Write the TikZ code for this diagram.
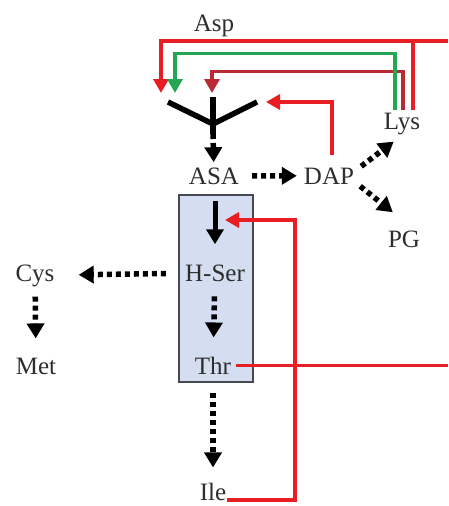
\documentclass[tikz,border=0pt]{standalone}
\usepackage{fontspec}
\setmainfont{Liberation Serif}
\usetikzlibrary{arrows.meta}
\definecolor{fbred}{RGB}{232,30,36}
\definecolor{fbdark}{RGB}{184,42,52}
\definecolor{fbgreen}{RGB}{36,166,84}
\definecolor{boxblue}{RGB}{212,222,240}
\definecolor{boxedge}{RGB}{70,72,82}
\definecolor{txt}{RGB}{45,45,45}

\begin{document}
\begin{tikzpicture}[x=1pt,y=-1pt,
    lbl/.style={font=\fontsize{25}{28}\selectfont,text=txt,inner sep=2pt,anchor=base},
    dotarr/.style={line width=5.5pt,dash pattern=on 5pt off 4pt,-{Triangle[length=15pt,width=17pt]}},
    solidarr/.style={line width=5pt,-{Triangle[length=15pt,width=17pt]}},
    fb/.style={line width=3.4pt,-{Triangle[length=14pt,width=15pt]}},
    fbline/.style={line width=3.4pt}]
  \useasboundingbox (0,0) rectangle (448,506);

  % Thr / H-Ser box
  \node[draw=boxedge,fill=boxblue,line width=2.2pt,minimum width=74pt,minimum height=187pt,inner sep=0pt] (bx) at (216,288.5) {};

  % labels
  \node[lbl] (asp) at (214,31) {Asp};
  \node[lbl] (asa) at (214,184) {ASA};
  \node[lbl] (dap) at (329,184) {DAP};
  \node[lbl] (lys) at (402,129) {Lys};
  \node[lbl] (pg) at (404,247) {PG};
  \node[lbl] (hser) at (215,281) {H-Ser};
  \node[lbl] (cys) at (35,281) {Cys};
  \node[lbl] (met) at (36,374) {Met};
  \node[lbl] (thr) at (213,374) {Thr};
  \node[lbl,inner sep=1pt] (ile) at (213,500) {Ile};

  % enzyme fork
  \coordinate (yl) at (168,102);
  \coordinate (yr) at (257,102);
  \coordinate (yt) at (213,97);
  \coordinate (yc) at (213,124);
  \coordinate (yb) at (213,134);
  \draw[line width=5.5pt] (yl) -- (yc) -- (yr);
  \draw[line width=5.5pt] (yt) -- (yb);

  % arrow tips and free ends
  \coordinate (tl) at (161,93);
  \coordinate (tg) at (175,93);
  \coordinate (tm) at (212,93);
  \coordinate (tr) at (266,102);
  \coordinate (ts) at (225,220);
  \coordinate (re) at (448,41);
  \coordinate (ir) at (295,500);

  % pathway
  \draw[dotarr,shorten >=3pt] (yb) -- (asa);
  \draw[dotarr,shorten <=11pt,shorten >=5pt] (asa) -- (dap);
  \draw[dotarr] ([xshift=5pt,yshift=-1pt]dap.north east) -- ([xshift=12pt,yshift=-5pt]lys.south west);
  \draw[dotarr] ([xshift=4pt]dap.south east) -- ([xshift=7pt,yshift=16pt]pg.north west);
  \draw[solidarr,shorten <=7pt,shorten >=18pt] (bx.north -| hser) -- (hser);
  \draw[dotarr,shorten <=17pt,shorten >=22pt] (hser) -- (cys);
  \draw[dotarr,shorten <=8pt,shorten >=17pt] (cys) -- (met);
  \draw[dotarr,shorten <=13pt,shorten >=17pt] (hser) -- (thr);
  \draw[dotarr,shorten <=17pt,shorten >=14pt] (thr) -- (ile);

  % feedback
  \draw[fbline,fbred] ([xshift=3pt]thr.east) -- (thr.east -| re);
  \draw[fb,fbred] (ile.base east) -- (ir) |- (ts);
  \draw[fb,fbred] ([xshift=3pt,yshift=10pt]dap.north) |- (tr);
  \draw[fb,fbred] (re) -| (tl);
  \draw[fbline,fbred] ([xshift=11pt]lys.north) |- (re);
  \draw[fb,fbdark] ([xshift=1pt]lys.north) -- ++(0,-39) -| (tm);
  \draw[fb,fbgreen] ([xshift=-7pt]lys.north) -- ++(0,-57) -| (tg);
\end{tikzpicture}
\end{document}
